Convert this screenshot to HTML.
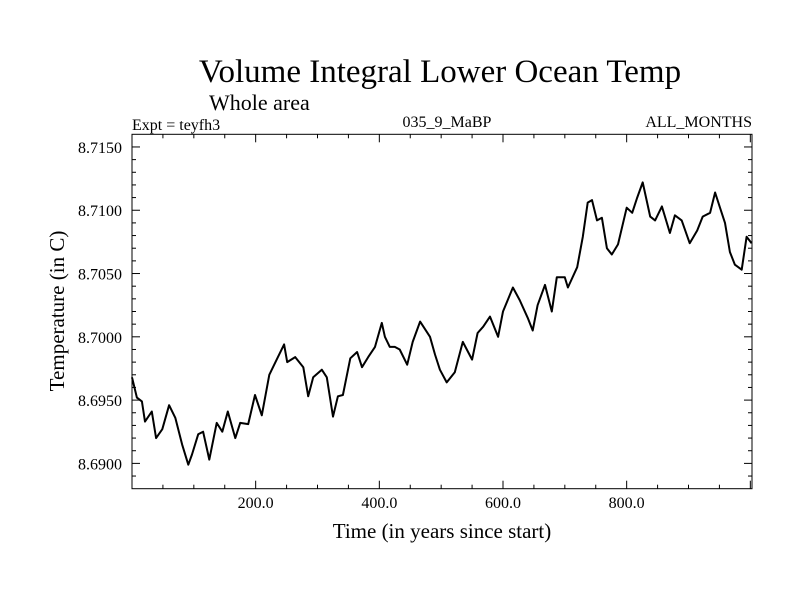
<!DOCTYPE html>
<html><head><meta charset="utf-8"><style>
html,body{margin:0;padding:0;background:#fff;}
svg text{font-family:"Liberation Serif",serif;fill:#000;}
</style></head><body>
<svg id="chart" width="800" height="600" xmlns="http://www.w3.org/2000/svg">
<text x="440" y="82" font-size="33" text-anchor="middle">Volume Integral Lower Ocean Temp</text>
<text x="209" y="110" font-size="22">Whole area</text>
<text x="132" y="130" font-size="16">Expt = teyfh3</text>
<text x="447" y="127" font-size="16" text-anchor="middle">035_9_MaBP</text>
<text x="752" y="127" font-size="16" text-anchor="end">ALL_MONTHS</text>
<text x="442" y="538" font-size="21" text-anchor="middle">Time (in years since start)</text>
<text transform="translate(64,311) rotate(-90)" font-size="21" text-anchor="middle">Temperature (in C)</text>
<g id="axes"></g>
<path id="series" fill="none" stroke="#000" stroke-width="2" stroke-linejoin="round"/>
<rect x="132" y="134.3" width="620" height="354.4" fill="none" stroke="#000" stroke-width="1"/>
</svg>
<script>
const years=[0,8,16,21,32,39,49,60,70,81,91,97,107,115,125,137,146,155,167,175,188,199,210,222,234,246,251,264,277,285,293,307,315,325,333,341,353,364,372,382,393,404,409,417,425,433,445,454,466,482,490,498,509,522,535,550,559,568,579,592,600,616,627,640,648,656,668,679,687,700,705,720,729,737,744,752,760,768,776,786,800,809,817,826,838,846,857,870,878,889,902,914,923,935,943,951,959,967,975,986,994,1002];
const temps=[8.6968,8.6952,8.6949,8.6933,8.6941,8.6920,8.6927,8.6946,8.6936,8.6915,8.6899,8.6907,8.6923,8.6925,8.6903,8.6932,8.6925,8.6941,8.6920,8.6932,8.6931,8.6954,8.6938,8.6970,8.6982,8.6994,8.6980,8.6984,8.6976,8.6953,8.6968,8.6974,8.6968,8.6937,8.6953,8.6954,8.6983,8.6988,8.6976,8.6984,8.6992,8.7011,8.7000,8.6992,8.6992,8.6990,8.6978,8.6996,8.7012,8.7000,8.6986,8.6974,8.6964,8.6972,8.6996,8.6982,8.7003,8.7008,8.7016,8.7000,8.7020,8.7039,8.7029,8.7015,8.7005,8.7025,8.7041,8.7020,8.7047,8.7047,8.7039,8.7055,8.7079,8.7106,8.7108,8.7092,8.7094,8.7070,8.7065,8.7073,8.7102,8.7098,8.7110,8.7122,8.7095,8.7092,8.7103,8.7082,8.7096,8.7092,8.7074,8.7084,8.7095,8.7098,8.7114,8.7102,8.7090,8.7067,8.7057,8.7053,8.7079,8.7074];
const xTickLabels=["200.0","400.0","600.0","800.0"];
const xTickValues=[200,400,600,800];
const yTickLabels=["8.6900","8.6950","8.7000","8.7050","8.7100","8.7150"];
const yTickValues=[8.690,8.695,8.700,8.705,8.710,8.715];
const X0=132,X1=752,Y0=488.7,Y1=134.3,XMIN=0,XMAX=1002.7,YMIN=8.688,YMAX=8.716;
function sx(t){return X0+(t-XMIN)/(XMAX-XMIN)*(X1-X0);}
function sy(v){return Y0-(v-YMIN)/(YMAX-YMIN)*(Y0-Y1);}
const NS="http://www.w3.org/2000/svg";
const g=document.getElementById('axes');
function line(x1,y1,x2,y2,name){const l=document.createElementNS(NS,'line');l.setAttribute('x1',x1);l.setAttribute('y1',y1);l.setAttribute('x2',x2);l.setAttribute('y2',y2);l.setAttribute('stroke','#000');l.setAttribute('stroke-width','1');


g.appendChild(l);}
function text(x,y,s,anchor,name){const t=document.createElementNS(NS,'text');t.setAttribute('x',x);t.setAttribute('y',y);t.setAttribute('font-size','16');t.setAttribute('text-anchor',anchor);t.textContent=s;


g.appendChild(t);}
for(let t=50;t<XMAX;t+=50){const x=sx(t);const L=(t%200===0)?8:4;line(x,Y0,x,Y0-L,'x-tick');line(x,Y1,x,Y1+L,'x-tick-top');}
for(let i=0;i<=28;i++){const v=YMIN+i*0.001;const y=sy(v);if(y<Y1+0.5||y>Y0-0.5)continue;const major=Math.abs(((v-8.690)/0.005)-Math.round((v-8.690)/0.005))<1e-6;const L=major?8:4;line(X0,y,X0+L,y,'y-tick');line(X1,y,X1-L,y,'y-tick-right');}
xTickValues.forEach((v,i)=>text(sx(v),508,xTickLabels[i],'middle','x-tick-label'));
yTickValues.forEach((v,i)=>text(122,sy(v)+6,yTickLabels[i],'end','y-tick-label'));
document.getElementById('series').setAttribute('d',years.map((t,i)=>(i?'L':'M')+sx(t).toFixed(1)+','+sy(temps[i]).toFixed(1)).join(''));
</script>
</body></html>
